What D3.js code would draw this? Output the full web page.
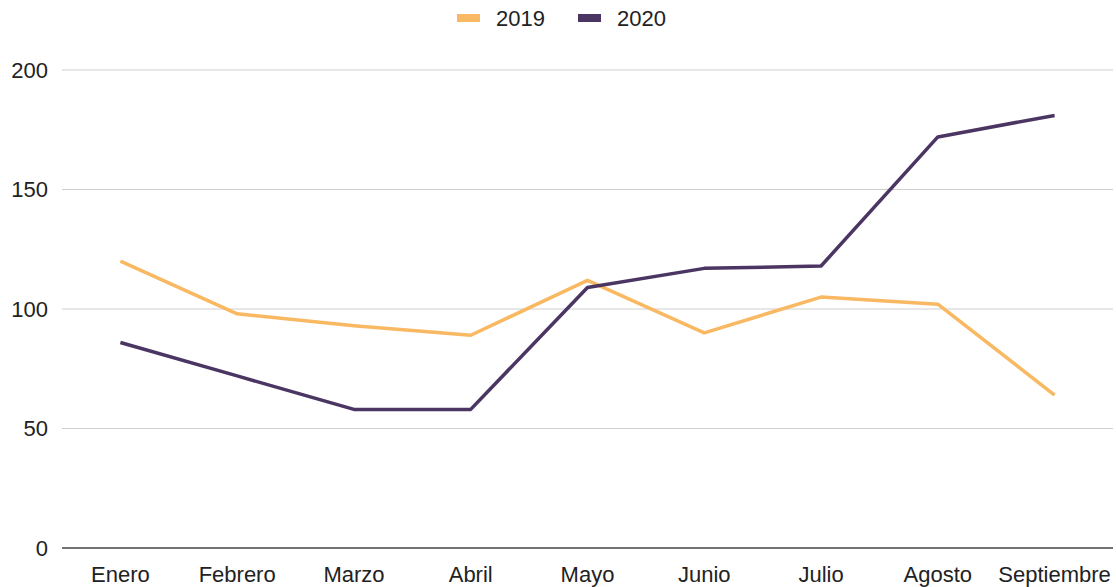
<!DOCTYPE html>
<html>
<head>
<meta charset="utf-8">
<script src="https://cdn.jsdelivr.net/npm/d3@7"></script>
<style>
  body { margin: 0; background: #fff; }
  text { font-family: "Liberation Sans", Arial, sans-serif; fill: #222; }
</style>
</head>
<body>
<div id="chart"></div>
<script>
// data
var months = ["Enero", "Febrero", "Marzo", "Abril", "Mayo", "Junio", "Julio", "Agosto", "Septiembre"];
var values2019 = [120, 98, 93, 89, 112, 90, 105, 102, 64];
var values2020 = [86, 72, 58, 58, 109, 117, 118, 172, 181];
var yTicks = [0, 50, 100, 150, 200];
var seriesNames = ["2019", "2020"];
var seriesColors = ["#f9b862", "#4b3562"];

var width = 1116, height = 587;
var margin = {top: 70, right: 3, bottom: 39, left: 62};
var fontSize = "22px";

var svg = d3.select("#chart")
    .append("svg")
    .attr("width", width)
    .attr("height", height)

var x = d3.scalePoint()
    .domain(months)
    .range([margin.left, width - margin.right])
    .padding(0.5);

var y = d3.scaleLinear()
    .domain([0, 200])
    .range([height - margin.bottom, margin.top]);

// gridlines
svg.append("g")
    .selectAll("line")
    .data(yTicks.slice(1))
    .enter()
    .append("line")
    .attr("x1", margin.left)
    .attr("x2", width - margin.right)
    .attr("y1", function (d) { return y(d); })
    .attr("y2", function (d) { return y(d); })
    .attr("stroke", "#cfcfcf")
    .attr("stroke-width", 1.2);

// y labels
svg.append("g")
    .selectAll("text")
    .data(yTicks)
    .enter()
    .append("text")
    .attr("x", 48)
    .attr("y", function (d) { return y(d); })
    .attr("dy", "0.35em")
    .attr("text-anchor", "end")
    .style("font-size", fontSize)
    .text(function (d) { return d; });

// x axis line
svg.append("line")
    .attr("x1", margin.left)
    .attr("x2", width - margin.right)
    .attr("y1", y(0))
    .attr("y2", y(0))
    .attr("stroke", "#444")
    .attr("stroke-width", 1.5);

// x labels
svg.append("g")
    .selectAll("text")
    .data(months)
    .enter()
    .append("text")
    .attr("x", function (d) { return x(d); })
    .attr("y", y(0) + 34)
    .attr("text-anchor", "middle")
    .style("font-size", fontSize)
    .text(function (d) { return d; });

// lines
var line = d3.line()
    .x(function (d, i) { return x(months[i]); })
    .y(function (d) { return y(d); });

[values2019, values2020].forEach(function (vals, i) {
    svg.append("path")
        .datum(vals)
        .attr("d", line)
        .attr("fill", "none")
        .attr("stroke", seriesColors[i])
        .attr("stroke-width", 3.5)
        .attr("stroke-linejoin", "round");
});

// legend
var legendX = [457, 578];
var legend = svg.append("g");
seriesNames.forEach(function (name, i) {
    legend.append("rect")
        .attr("x", legendX[i])
        .attr("y", 14)
        .attr("width", 23)
        .attr("height", 8)
        .attr("fill", seriesColors[i]);
    legend.append("text")
        .attr("x", legendX[i] + 39)
        .attr("y", 18)
        .attr("dy", "0.35em")
        .style("font-size", fontSize)
        .text(name);
});
</script>
</body>
</html>
